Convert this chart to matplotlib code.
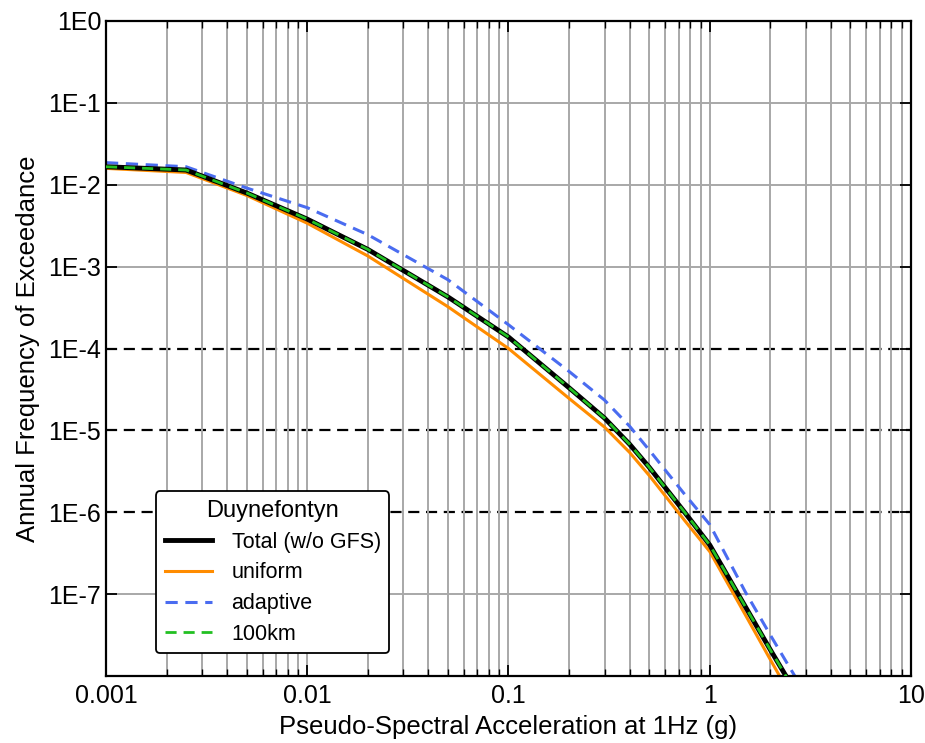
import numpy as np
import matplotlib.pyplot as plt
from matplotlib.ticker import FixedLocator, FuncFormatter, LogLocator, NullLocator

plt.rcParams['font.family'] = ['Liberation Sans', 'DejaVu Sans']

# spectral acceleration levels (g)
psa = [0.001, 0.0025, 0.005, 0.01, 0.02, 0.05, 0.1, 0.2, 0.3, 0.4, 0.5, 0.75, 1.0, 1.5, 2.0, 2.5, 3.0]

# log10 of annual frequency of exceedance
log_total = [-1.78, -1.82, -2.10, -2.42, -2.79, -3.37, -3.86, -4.48, -4.85, -5.17, -5.45, -6.00, -6.40, -7.15, -7.68, -8.08, -8.42]
log_uniform = [-1.80, -1.85, -2.13, -2.47, -2.87, -3.49, -4.00, -4.61, -4.96, -5.27, -5.55, -6.10, -6.48, -7.25, -7.80, -8.22, -8.58]
log_adaptive = [-1.73, -1.78, -2.04, -2.28, -2.61, -3.16, -3.71, -4.28, -4.63, -4.95, -5.24, -5.78, -6.15, -6.97, -7.50, -7.90, -8.22]
log_100km = [-1.78, -1.82, -2.10, -2.42, -2.79, -3.37, -3.86, -4.48, -4.85, -5.17, -5.45, -6.00, -6.40, -7.15, -7.68, -8.08, -8.42]

ref_levels = [1e-4, 1e-5, 1e-6]
y_exps = [-7, -6, -5, -4, -3, -2, -1, 0]

fig = plt.figure(figsize=(9.25, 7.43), dpi=100)
ax = fig.add_axes([106 / 925, 1 - 676 / 743, 805 / 925, 655 / 743])

ax.set_xscale('log')
ax.set_yscale('log')
ax.set_xlim(0.001, 10)
ax.set_ylim(1e-8, 1)

# grid
ax.xaxis.set_minor_locator(LogLocator(base=10, subs=np.arange(2, 10)))
ax.yaxis.set_major_locator(FixedLocator([10.0 ** e for e in y_exps]))
ax.yaxis.set_minor_locator(NullLocator())
ax.yaxis.set_major_formatter(FuncFormatter(lambda v, p: '1E%d' % round(np.log10(v))))
ax.xaxis.set_major_formatter(FuncFormatter(lambda v, p: '%g' % v))
ax.grid(True, which='both', axis='x', color='#a8a8a8', lw=1.4)
for e in y_exps:
    if 10.0 ** e not in ref_levels:
        ax.axhline(10.0 ** e, color='#a8a8a8', lw=1.4, zorder=0.5)
for lv in ref_levels:
    ax.axhline(lv, color='black', lw=1.6, ls=(0, (5, 3)), zorder=1)

ax.plot(psa, 10.0 ** np.array(log_total), color='black', lw=3.5, label='Total (w/o GFS)', zorder=3)
ax.plot(psa, 10.0 ** np.array(log_uniform), color='#ff8c00', lw=2.2, label='uniform', zorder=2)
ax.plot(psa, 10.0 ** np.array(log_adaptive), color='#4a6cf0', lw=2.2, ls=(0, (4, 2.5)), label='adaptive', zorder=2)
ax.plot(psa, 10.0 ** np.array(log_100km), color='#22c022', lw=2.0, ls=(0, (4, 2.5)), label='100km', zorder=4)

ax.tick_params(which='both', direction='in', top=True, right=True, labelsize=18)
ax.tick_params(which='major', length=8, width=1.3)
ax.tick_params(which='minor', length=5, width=1.0)
ax.tick_params(axis='x', pad=6)
for s in ax.spines.values():
    s.set_linewidth(1.6)

ax.set_xlabel('Pseudo-Spectral Acceleration at 1Hz (g)', fontsize=18.5, labelpad=5)
ax.set_ylabel('Annual Frequency of Exceedance', fontsize=18.5, labelpad=6)

leg = ax.legend(title='Duynefontyn', loc='lower left', bbox_to_anchor=(0.057, 0.028),
                fontsize=15.5, title_fontsize=17, frameon=True, fancybox=True,
                edgecolor='black', framealpha=1, handlelength=2.2, handletextpad=0.9,
                borderpad=0.4, borderaxespad=0.2, labelspacing=0.45)
leg.get_frame().set_linewidth(1.3)

fig.savefig('out.png', dpi=100)
